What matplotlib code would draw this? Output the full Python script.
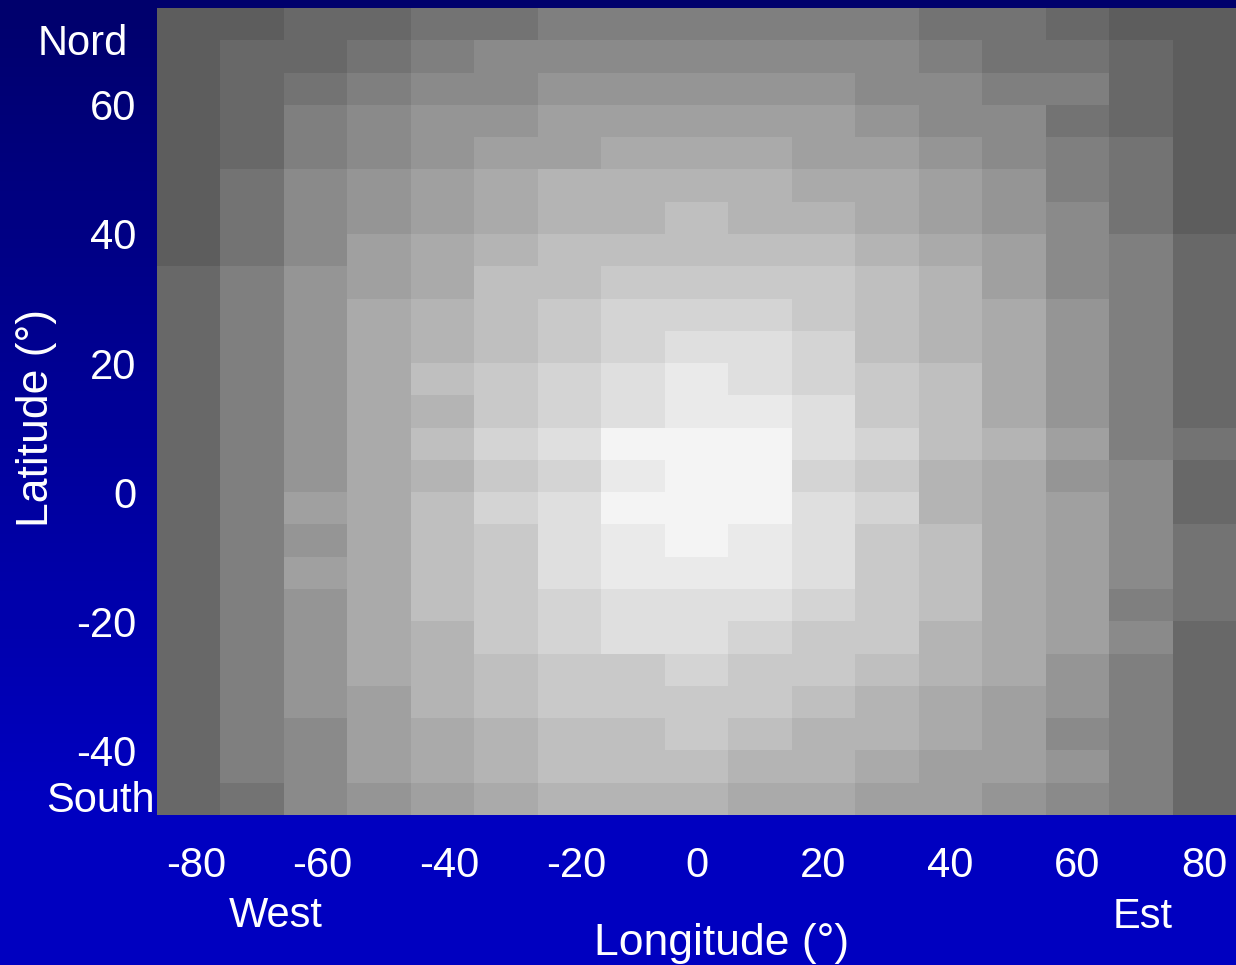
import numpy as np
import matplotlib
matplotlib.use("Agg")
import matplotlib.pyplot as plt
import matplotlib.transforms as mtransforms
from matplotlib.colors import ListedColormap, BoundaryNorm

plt.rcParams["font.family"] = ["Liberation Sans", "DejaVu Sans"]
plt.rcParams["axes.unicode_minus"] = False

# longitude centres of the columns (deg)
lon = list(range(-80, 90, 10))
# latitude band edges, north to south (deg)
lat_edges = list(range(75, -55, -5))

# brightness level (0 = darkest, 14 = brightest) per cell, rows north -> south
brightness = [
    [0, 0, 1, 1, 2, 2, 3, 3, 3, 3, 3, 3, 2, 2, 1, 0, 0],
    [0, 1, 1, 2, 3, 4, 4, 4, 4, 4, 4, 4, 3, 2, 2, 1, 0],
    [0, 1, 2, 3, 4, 4, 5, 5, 5, 5, 5, 4, 4, 3, 3, 1, 0],
    [0, 1, 3, 4, 5, 5, 6, 6, 6, 6, 6, 5, 4, 4, 2, 1, 0],
    [0, 1, 3, 4, 5, 6, 6, 7, 7, 7, 6, 6, 5, 4, 3, 2, 0],
    [0, 2, 4, 5, 6, 7, 8, 8, 8, 8, 7, 7, 6, 5, 3, 2, 0],
    [0, 2, 4, 5, 6, 7, 8, 8, 9, 8, 8, 7, 6, 5, 4, 2, 0],
    [0, 2, 4, 6, 7, 8, 9, 9, 9, 9, 9, 8, 7, 6, 4, 3, 1],
    [1, 3, 5, 6, 7, 9, 9, 10, 10, 10, 10, 9, 8, 6, 4, 3, 1],
    [1, 3, 5, 7, 8, 9, 10, 11, 11, 11, 10, 9, 8, 7, 5, 3, 1],
    [1, 3, 5, 7, 8, 9, 10, 11, 12, 12, 11, 9, 8, 7, 5, 3, 1],
    [1, 3, 5, 7, 9, 10, 11, 12, 13, 12, 11, 10, 9, 7, 5, 3, 1],
    [1, 3, 5, 7, 8, 10, 11, 12, 13, 13, 12, 10, 9, 7, 5, 3, 1],
    [1, 3, 5, 7, 9, 11, 12, 14, 14, 14, 12, 11, 9, 8, 6, 3, 2],
    [1, 3, 5, 7, 8, 10, 11, 13, 14, 14, 11, 10, 8, 7, 5, 4, 1],
    [1, 3, 6, 7, 9, 11, 12, 14, 14, 14, 12, 11, 8, 7, 6, 4, 1],
    [1, 3, 5, 7, 9, 10, 12, 13, 14, 13, 12, 10, 9, 7, 6, 4, 2],
    [1, 3, 6, 7, 9, 10, 12, 13, 13, 13, 12, 10, 9, 7, 6, 4, 2],
    [1, 3, 5, 7, 9, 10, 11, 12, 12, 12, 11, 10, 9, 7, 6, 3, 2],
    [1, 3, 5, 7, 8, 10, 11, 12, 12, 11, 10, 10, 8, 7, 6, 4, 1],
    [1, 3, 5, 7, 8, 9, 10, 10, 11, 10, 10, 9, 8, 7, 5, 3, 1],
    [1, 3, 5, 6, 8, 9, 10, 10, 10, 10, 9, 8, 7, 6, 5, 3, 1],
    [1, 3, 4, 6, 7, 8, 9, 9, 10, 9, 8, 8, 7, 6, 4, 3, 1],
    [1, 3, 4, 6, 7, 8, 9, 9, 9, 8, 8, 7, 6, 6, 5, 3, 1],
    [1, 2, 4, 5, 6, 7, 8, 8, 8, 7, 7, 6, 6, 5, 4, 3, 1],
]

grey_levels = ["#5d5d5d", "#686868", "#737373", "#7f7f7f", "#8a8a8a",
               "#959595", "#a0a0a0", "#aaaaaa", "#b4b4b4", "#bfbfbf",
               "#c9c9c9", "#d4d4d4", "#dfdfdf", "#eaeaea", "#f4f4f4"]

x_ticks = [-80, -60, -40, -20, 0, 20, 40, 60, 80]
y_ticks = [-40, -20, 0, 20, 40, 60]

W, H = 1236, 965
fig = plt.figure(figsize=(W / 100, H / 100), dpi=100)

# blue gradient background: dark navy at top, flat blue near the bottom
bg = fig.add_axes([0, 0, 1, 1], zorder=-10)
rows = np.arange(H)
blue = np.clip(0x6C + (0xC0 - 0x6C) * rows / 800.0, 0, 0xC0) / 255.0
grad = np.zeros((H, 1, 3))
grad[:, 0, 2] = blue
bg.imshow(grad, aspect="auto", extent=[0, 1, 0, 1], origin="upper")
bg.set_axis_off()

ax = fig.add_axes([157 / W, 1 - 815 / H, (W - 157) / W, (815 - 8) / H])
lon_edges = [c - 5 for c in lon] + [lon[-1] + 5]
cmap = ListedColormap(grey_levels)
norm = BoundaryNorm(np.arange(-0.5, len(grey_levels)), cmap.N)
ax.pcolormesh(lon_edges, lat_edges, np.array(brightness), cmap=cmap, norm=norm)
ax.set_xlim(-85, 85)
ax.set_ylim(-50, 75)
ax.set_xticks(x_ticks)
ax.set_yticks(y_ticks)
ax.tick_params(length=0, labelsize=30, colors="white")
ax.tick_params(axis="x", pad=22)
ax.tick_params(axis="y", pad=15)
for s in ax.spines.values():
    s.set_visible(False)

# the reference centres the digits, not the leading minus sign
shift = mtransforms.ScaledTranslation(0.07, 0, fig.dpi_scale_trans)
for val, lab in zip(x_ticks, ax.get_xticklabels()):
    if val < 0:
        lab.set_transform(lab.get_transform() + shift)

txt = dict(color="white", fontsize=30)
fig.text(128 / W, 1 - 55 / H, "Nord", ha="right", va="baseline", **txt)
fig.text(155 / W, 1 - 812 / H, "South", ha="right", va="baseline", **txt)
fig.text(276 / W, 1 - 927 / H, "West", ha="center", va="baseline", **txt)
fig.text(1143 / W, 1 - 928 / H, "Est", ha="center", va="baseline", **txt)
fig.text(722 / W, 1 - 955 / H, "Longitude (°)", ha="center", va="baseline",
         color="white", fontsize=32)
fig.text(37 / W, 1 - 418 / H, "Latitude (°)", ha="center", va="center",
         rotation=90, color="white", fontsize=32)

fig.savefig("out.png", dpi=100)
